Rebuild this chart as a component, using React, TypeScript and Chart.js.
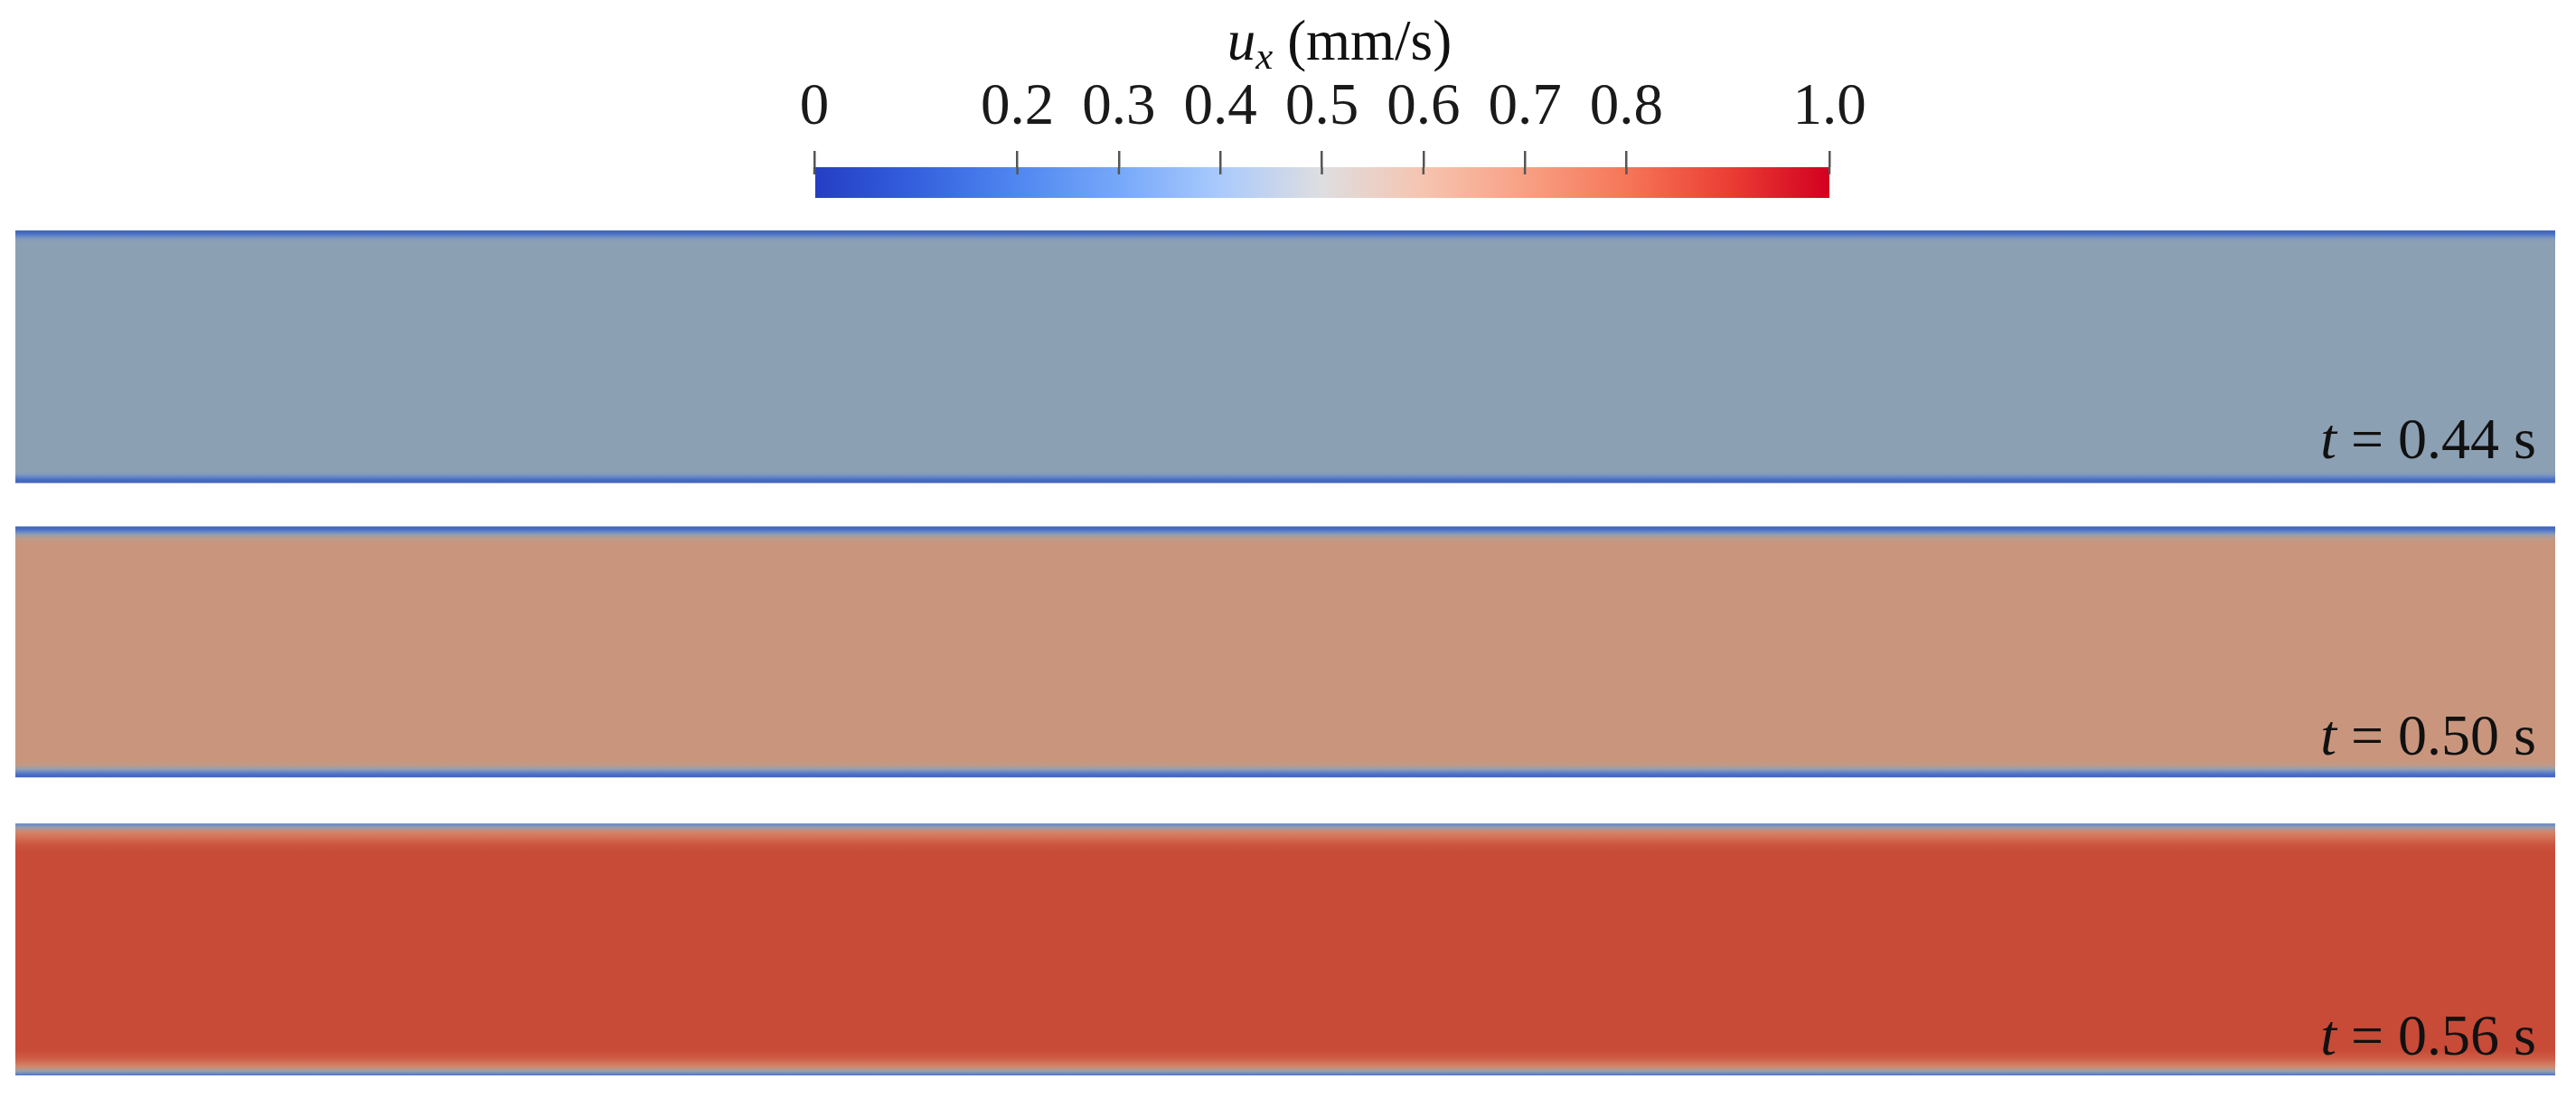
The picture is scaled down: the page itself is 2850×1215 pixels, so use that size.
import React, { useEffect, useRef } from 'react';
import { Chart, registerables } from 'chart.js';

Chart.register(...registerables);

// ---------------- data ----------------
const COLORBAR_TICKS = [0, 0.2, 0.3, 0.4, 0.5, 0.6, 0.7, 0.8, 1.0];
const COLORBAR_RANGE = [0, 1];
const TIMES = ['0.44', '0.50', '0.56'];

// velocity profiles across the channel: position (0 = lower wall, 1 = upper wall) and u_x (mm/s)
const POS_T044 = [0, 0.011, 0.021, 0.032, 0.046, 0.954, 0.968, 0.979, 0.989, 1];
const UX_T044 = [0.02, 0.08, 0.2, 0.36, 0.42, 0.42, 0.36, 0.2, 0.08, 0.02];

const POS_T050 = [0, 0.011, 0.022, 0.032, 0.047, 0.065, 0.935, 0.953, 0.968, 0.978, 0.989, 1];
const UX_T050 = [0.03, 0.1, 0.25, 0.45, 0.58, 0.63, 0.63, 0.58, 0.45, 0.25, 0.1, 0.03];

const POS_T056 = [0, 0.007, 0.018, 0.036, 0.065, 0.1, 0.88, 0.915, 0.946, 0.968, 0.986, 1];
const UX_T056 = [0.1, 0.25, 0.48, 0.72, 0.86, 0.93, 0.93, 0.9, 0.8, 0.72, 0.45, 0.2];

const PROFILE_POS = [POS_T044, POS_T050, POS_T056];
const PROFILE_UX = [UX_T044, UX_T050, UX_T056];

// ---------------- layout / style ----------------
const W = 2850;
const H = 1215;
const SERIF = "'Liberation Serif', 'Times New Roman', Times, serif";

const Y_MAX = 3.357;
const STRIP_LO = [2.355, 1.185, 0];
const STRIP_HI = [3.357, 2.18, 1.0];
const LABEL_BASELINE = [508, 836, 1168];

const CBAR_TOP = 185;
const CBAR_BOTTOM = 219;
const CBAR_CANVAS_H = 240;
const TICK_COLOR = '#555';
const TICK_WIDTH = 2.5;
const TICK_INTO_BAR = 8;

// colour bar colour map (stops every 0.1)
const CBAR_STOP_POS = [0, 0.1, 0.2, 0.3, 0.4, 0.5, 0.6, 0.7, 0.8, 0.9, 1.0];
const CBAR_STOP_RGB = [
  [36, 62, 196], [52, 96, 222], [80, 135, 240], [118, 168, 250], [170, 202, 252],
  [222, 222, 224], [246, 196, 176], [248, 160, 132], [246, 118, 88], [235, 62, 52], [210, 0, 32],
];

// rendered (lit) field colour map used for the channel strips
const FIELD_STOP_U = [0, 0.1, 0.2, 0.3, 0.42, 0.5, 0.56, 0.63, 0.75, 0.85, 0.93, 1.0];
const FIELD_STOP_RGB = [
  [62, 96, 190], [75, 110, 195], [95, 130, 200], [118, 146, 196], [140, 160, 180],
  [165, 158, 160], [185, 155, 142], [201, 150, 125], [215, 128, 100], [208, 98, 75],
  [200, 75, 55], [190, 55, 45],
];

function lerpMap(v: number, pos: number[], rgb: number[][]): string {
  if (v <= pos[0]) return `rgb(${rgb[0].join(',')})`;
  for (let i = 1; i < pos.length; i++) {
    if (v <= pos[i]) {
      const f = (v - pos[i - 1]) / (pos[i] - pos[i - 1]);
      const c = rgb[i - 1].map((a, k) => Math.round(a + (rgb[i][k] - a) * f));
      return `rgb(${c.join(',')})`;
    }
  }
  return `rgb(${rgb[rgb.length - 1].join(',')})`;
}

// continues the colour-bar tick marks a little way into the bar, as in the original
const tickOverlapPlugin = {
  id: 'tickOverlap',
  afterDatasetsDraw(chart: any) {
    const xs = chart.scales.x;
    const area = chart.chartArea;
    if (!xs || !area) return;
    const ctx = chart.ctx;
    ctx.save();
    ctx.strokeStyle = TICK_COLOR;
    ctx.lineWidth = TICK_WIDTH;
    COLORBAR_TICKS.forEach((v) => {
      const px = xs.getPixelForValue(v);
      ctx.beginPath();
      ctx.moveTo(px, area.top);
      ctx.lineTo(px, area.top + TICK_INTO_BAR);
      ctx.stroke();
    });
    ctx.restore();
  },
};

export default function App() {
  const fieldRef = useRef<HTMLCanvasElement>(null);
  const cbarRef = useRef<HTMLCanvasElement>(null);

  useEffect(() => {
    const charts: Chart[] = [];

    // ---- channel strips ----
    if (fieldRef.current) {
      const datasets = TIMES.map((t, i) => ({
        label: `t = ${t} s`,
        data: [[STRIP_LO[i], STRIP_HI[i]]],
        grouped: false,
        barPercentage: 1,
        categoryPercentage: 1,
        borderWidth: 0,
        backgroundColor: (ctx: any) => {
          const chart = ctx.chart;
          const ys = chart.scales?.y;
          const pos = PROFILE_POS[i];
          const ux = PROFILE_UX[i];
          if (!chart.chartArea || !ys) return lerpMap(ux[Math.floor(ux.length / 2)], FIELD_STOP_U, FIELD_STOP_RGB);
          const p0 = ys.getPixelForValue(STRIP_LO[i]);
          const p1 = ys.getPixelForValue(STRIP_HI[i]);
          const g = chart.ctx.createLinearGradient(0, p0, 0, p1);
          pos.forEach((p, k) => g.addColorStop(p, lerpMap(ux[k], FIELD_STOP_U, FIELD_STOP_RGB)));
          return g;
        },
      }));
      charts.push(
        new Chart(fieldRef.current, {
          type: 'bar',
          data: { labels: ['channel'], datasets: datasets as any },
          options: {
            responsive: false,
            animation: false,
            events: [],
            layout: { padding: { left: 17, right: W - 2827, top: 255, bottom: H - 1190 } },
            plugins: { legend: { display: false }, tooltip: { enabled: false }, title: { display: false } },
            scales: {
              x: { type: 'category', display: false, offset: true },
              y: { type: 'linear', display: false, min: 0, max: Y_MAX },
            },
          },
        })
      );
    }

    // ---- colour bar ----
    if (cbarRef.current) {
      charts.push(
        new Chart(cbarRef.current, {
          type: 'bar',
          data: {
            labels: ['u'],
            datasets: [
              {
                label: 'ux',
                data: [[COLORBAR_RANGE[0], COLORBAR_RANGE[1]]],
                barPercentage: 1,
                categoryPercentage: 1,
                borderWidth: 0,
                backgroundColor: (ctx: any) => {
                  const chart = ctx.chart;
                  const xs = chart.scales?.x;
                  if (!chart.chartArea || !xs) return '#ddd';
                  const g = chart.ctx.createLinearGradient(
                    xs.getPixelForValue(COLORBAR_RANGE[0]), 0,
                    xs.getPixelForValue(COLORBAR_RANGE[1]), 0
                  );
                  CBAR_STOP_POS.forEach((p, k) => g.addColorStop(p, `rgb(${CBAR_STOP_RGB[k].join(',')})`));
                  return g;
                },
              } as any,
            ],
          },
          plugins: [tickOverlapPlugin],
          options: {
            indexAxis: 'y',
            responsive: false,
            animation: false,
            events: [],
            layout: { padding: { left: 901, right: W - 2024, top: 0, bottom: CBAR_CANVAS_H - CBAR_BOTTOM } },
            plugins: { legend: { display: false }, tooltip: { enabled: false } },
            scales: {
              y: { type: 'category', display: false, offset: true },
              x: {
                type: 'linear',
                position: 'top',
                min: COLORBAR_RANGE[0],
                max: COLORBAR_RANGE[1],
                afterBuildTicks: (scale: any) => {
                  scale.ticks = COLORBAR_TICKS.map((v) => ({ value: v }));
                },
                afterFit: (scale: any) => {
                  scale.height = CBAR_TOP;
                },
                ticks: {
                  autoSkip: false,
                  maxRotation: 0,
                  minRotation: 0,
                  padding: 8,
                  color: '#1a1a1a',
                  font: { family: SERIF, size: 65 },
                  callback: (v: any) => (Number(v) === 0 ? '0' : Number(v).toFixed(1)),
                },
                grid: {
                  display: true,
                  drawOnChartArea: false,
                  drawTicks: true,
                  tickLength: 18,
                  color: TICK_COLOR,
                  lineWidth: TICK_WIDTH,
                },
                border: { display: false },
              },
            },
          },
        })
      );
    }

    return () => charts.forEach((c) => c.destroy());
  }, []);

  return (
    <div style={{ position: 'fixed', left: 0, top: 0, width: W, height: H, background: '#fff', overflow: 'hidden' }}>
      <canvas ref={fieldRef} width={W} height={H} style={{ position: 'absolute', left: 0, top: 0 }} />
      <canvas ref={cbarRef} width={W} height={CBAR_CANVAS_H} style={{ position: 'absolute', left: 0, top: 0 }} />
      <div
        style={{
          position: 'absolute', left: 1482, top: 14, transform: 'translateX(-50%)',
          fontFamily: SERIF, fontSize: 63, lineHeight: 1, whiteSpace: 'nowrap', color: '#111',
        }}
      >
        <i>u</i>
        <i style={{ fontSize: '0.68em', position: 'relative', top: '0.23em' }}>x</i> (mm/s)
      </div>
      {TIMES.map((t, i) => (
        <div
          key={t}
          style={{
            position: 'absolute', right: W - 2806, top: LABEL_BASELINE[i] - 54,
            fontFamily: SERIF, fontSize: 64, lineHeight: 1, whiteSpace: 'nowrap', color: '#111',
          }}
        >
          <i>t</i> = {t} s
        </div>
      ))}
    </div>
  );
}
